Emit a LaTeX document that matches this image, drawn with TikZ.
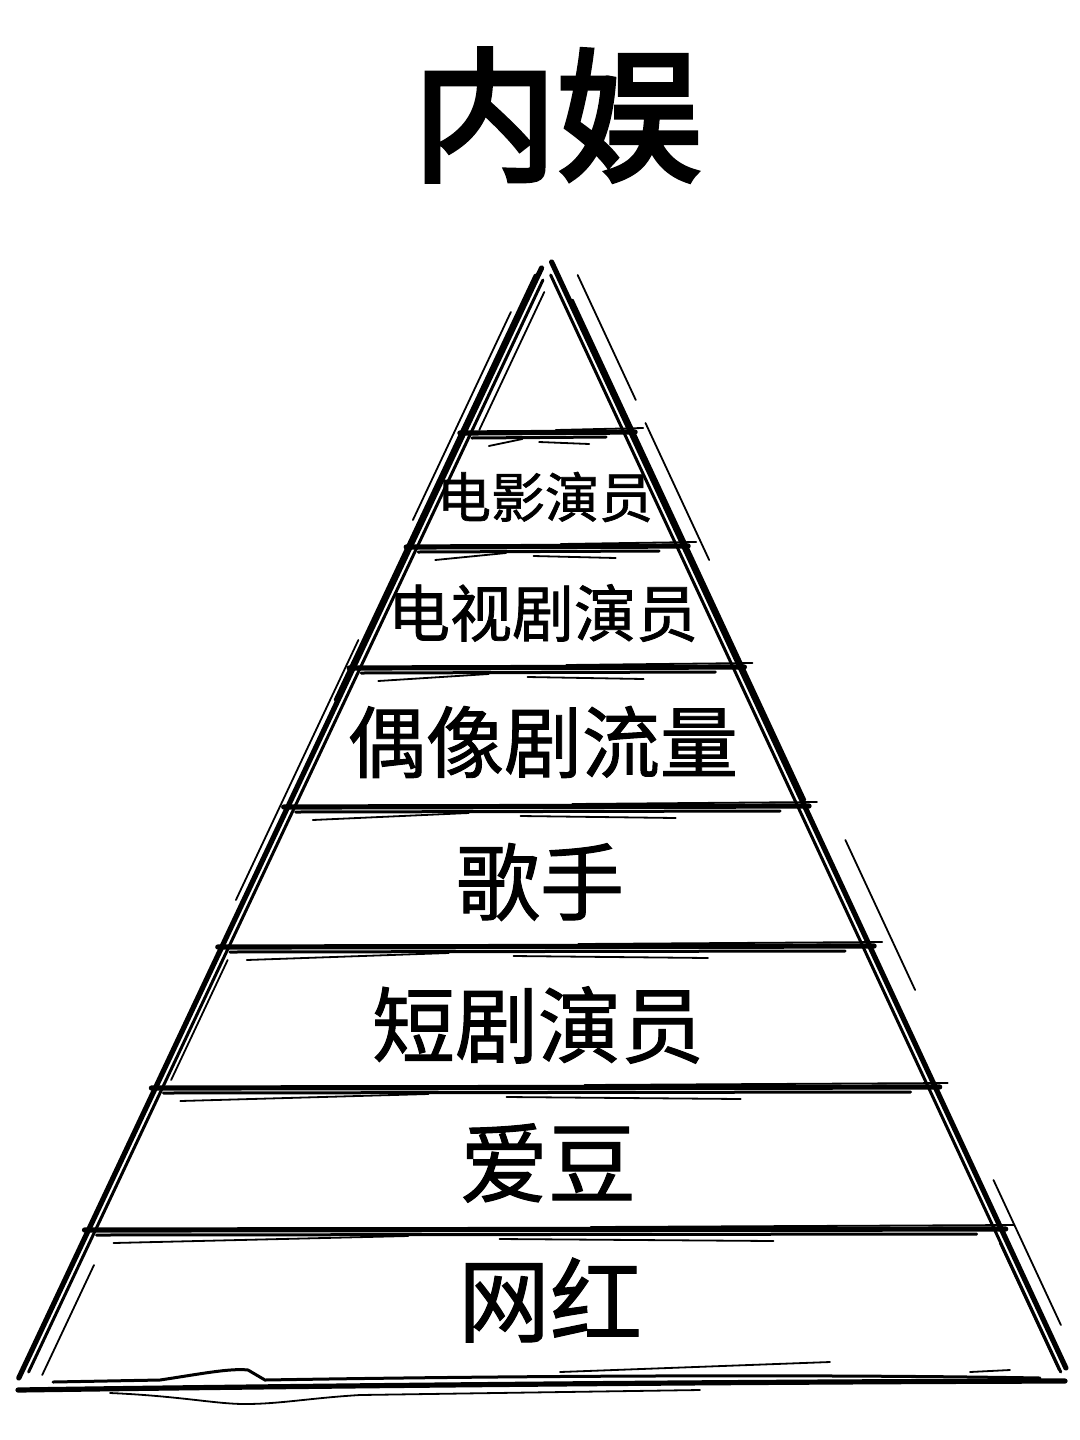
\documentclass[tikz,border=0pt]{standalone}
\usepackage{fontspec}
\newfontfamily\cjk[FakeBold=1.2]{Noto Sans CJK SC}
\newfontfamily\cjkbold[FakeBold=3.5]{Noto Sans CJK SC}
\begin{document}
\begin{tikzpicture}[x=0.5pt,y=-0.5pt]
\tikzset{
  heavy/.style={line width=2.6pt, line cap=round, black},
  medium/.style={line width=1.5pt, line cap=round, black},
  light/.style={line width=0.9pt, line cap=round, black},
  lbl/.style={font=\cjk, inner sep=0pt, anchor=center},
}
\useasboundingbox[fill=white] (0,0) rectangle (1080,1440);
\def\XL#1{543-0.471*(#1-265)}
\def\XR#1{553+0.465*(#1-265)}
\newcommand\tierline[1]{%
  \pgfmathsetmacro\pxL{543-0.471*(#1-265)}%
  \pgfmathsetmacro\pxR{553+0.465*(#1-265)}%
  \pgfmathsetmacro\pxW{\pxR-\pxL}%
  \draw[heavy] (\pxL-4,#1) -- (\pxR+4,#1-1);
  \draw[medium] (\pxL+8,#1+5) -- (\pxR-25,#1+4);
  \draw[light] (\pxL+25,#1+13) -- (\pxL+0.35*\pxW,#1+6);
  \draw[light] (\pxL+0.55*\pxW,#1-3) -- (\pxR+12,#1-5);
  \draw[light] (\pxL+0.45*\pxW,#1+9) -- (\pxL+0.75*\pxW,#1+11);
}
% title
\node[font=\cjkbold\fontsize{72pt}{76pt}\selectfont, inner sep=0pt] (title) at (557,115) {内娱};
% left edge
\draw[heavy] ({\XL{268}},268) -- ({\XL{1378}},1378);
\draw[medium] ({\XL{280}+7},280) -- ({\XL{1372}+7},1372);
\draw[light] ({\XL{312}-10},312) -- ({\XL{520}-10},520);
\draw[light] ({\XL{292}+14},292) -- ({\XL{430}+14},430);
\draw[light] ({\XL{640}-8},640) -- ({\XL{900}-8},900);
\draw[light] ({\XL{1265}+22},1265) -- ({\XL{1375}+22},1375);
\draw[light] ({\XL{960}+12},960) -- ({\XL{1080}+12},1080);
\draw[medium] ({\XL{275}-3},275) -- ({\XL{700}-3},700);
% right edge
\draw[heavy] ({\XR{262}},262) -- ({\XR{1368}},1368);
\draw[medium] ({\XR{275}-7},275) -- ({\XR{1372}-7},1372);
\draw[medium] ({\XR{300}+3},300) -- ({\XR{800}+3},800);
\draw[light] ({\XR{275}+20},275) -- ({\XR{400}+20},400);
\draw[light] ({\XR{423}+19},423) -- ({\XR{560}+19},560);
\draw[light] ({\XR{840}+25},840) -- ({\XR{990}+25},990);
\draw[light] ({\XR{1180}+15},1180) -- ({\XR{1325}+15},1325);
\draw[light] ({\XR{1243}-8},1243) -- ({\XR{1370}-8},1370);
% tier lines
\tierline{433}
\tierline{547}
\tierline{668}
\tierline{807}
\tierline{947}
\tierline{1088}
\tierline{1230}
% base
\draw[heavy] (18,1390) .. controls (300,1386) and (700,1382) .. (1065,1381);
\draw[medium] (53,1382) -- (160,1380) .. controls (200,1374) and (230,1368) .. (248,1370) -- (265,1380) .. controls (500,1376) and (800,1374) .. (1040,1378);
\draw[light] (110,1393) .. controls (180,1396) and (215,1404) .. (245,1404) .. controls (280,1404) and (310,1398) .. (360,1395) -- (700,1390);
\draw[light] (560,1372) -- (830,1362);
\draw[light] (970,1372) -- (1010,1370);
% labels
\node[lbl, font=\cjk\fontsize{27pt}{29pt}\selectfont] (t1) at (545,497) {电影演员};
\node[lbl, font=\cjk\fontsize{31pt}{33pt}\selectfont] (t2) at (543,613) {电视剧演员};
\node[lbl, font=\cjk\fontsize{39pt}{41pt}\selectfont] (t3) at (543,742) {偶像剧流量};
\node[lbl, font=\cjk\fontsize{42pt}{44pt}\selectfont] (t4) at (540,882) {歌手};
\node[lbl, font=\cjk\fontsize{41.5pt}{44pt}\selectfont] (t5) at (538,1025) {短剧演员};
\node[lbl, font=\cjk\fontsize{44pt}{46pt}\selectfont] (t6) at (548,1163) {爱豆};
\node[lbl, font=\cjk\fontsize{46pt}{48pt}\selectfont] (t7) at (550,1300) {网红};
\end{tikzpicture}
\end{document}
